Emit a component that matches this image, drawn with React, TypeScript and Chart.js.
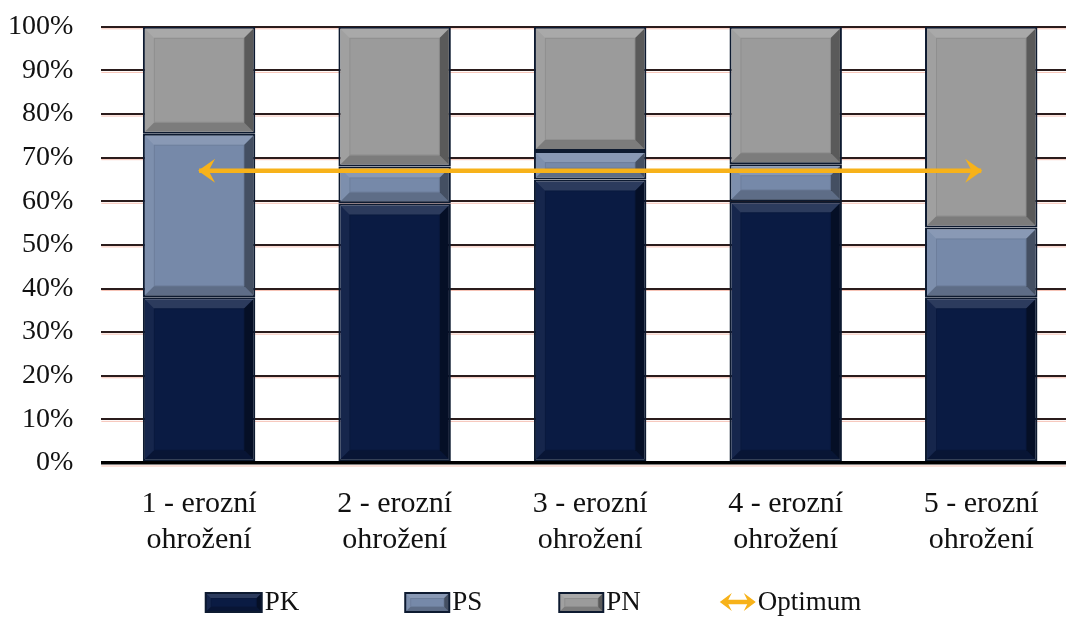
import React, { useEffect, useRef } from 'react';
import { Chart, registerables } from 'chart.js';

Chart.register(...registerables);

// Erosion-risk categories (two-line axis labels)
const categories: string[][] = [
  ['1 - erozní', 'ohrožení'],
  ['2 - erozní', 'ohrožení'],
  ['3 - erozní', 'ohrožení'],
  ['4 - erozní', 'ohrožení'],
  ['5 - erozní', 'ohrožení'],
];

// Shares of land use per category, in percent
const pkValues = [38, 59.5, 65, 60, 38];
const psValues = [37.5, 8.5, 6.5, 8.5, 16];
const pnValues = [24.5, 32, 28.5, 31.5, 46];

// Optimum level, drawn as a double arrow from the first to the last category
const optimumValues: (number | null)[] = [67, null, null, null, 67];

const seriesNames = ['PK', 'PS', 'PN', 'Optimum'];

const COLORS = {
  PK: '#0a1b43',
  PS: '#7689a9',
  PN: '#9b9b9b',
  edge: '#0d1a30',
  optimum: '#f7b21a',
  text: '#111111',
};

const FONT = "'Liberation Serif', 'Times New Roman', serif";

// Visible frame and the (larger) drawing surface behind it
const VIEW_W = 1066;
const VIEW_H = 618;
const CANVAS_W = 1140;
const CANVAS_H = 640;
const SHIFT_X = 20;
const SHIFT_Y = 18;

type Pt = [number, number];

function poly(ctx: CanvasRenderingContext2D, pts: Pt[], fill: string) {
  ctx.beginPath();
  ctx.moveTo(pts[0][0], pts[0][1]);
  for (let i = 1; i < pts.length; i++) ctx.lineTo(pts[i][0], pts[i][1]);
  ctx.closePath();
  ctx.fillStyle = fill;
  ctx.fill();
}

// Chiselled-edge look for a rectangle (l, t, r, b are the inner face bounds)
function drawBevel(ctx: CanvasRenderingContext2D, l: number, t: number, r: number, b: number, size: number) {
  const s = Math.min(size, (b - t) / 2, (r - l) / 2);
  if (s <= 0) return;
  poly(ctx, [[l, t], [r, t], [r - s, t + s], [l + s, t + s]], 'rgba(255,255,255,0.14)');
  poly(ctx, [[l, t], [l + s, t + s], [l + s, b - s], [l, b]], 'rgba(255,255,255,0.05)');
  poly(ctx, [[r, t], [r, b], [r - s, b - s], [r - s, t + s]], 'rgba(0,0,0,0.42)');
  poly(ctx, [[l, b], [r, b], [r - s, b - s], [l + s, b - s]], 'rgba(0,0,0,0.2)');
  ctx.strokeStyle = 'rgba(0,0,0,0.08)';
  ctx.lineWidth = 1;
  ctx.strokeRect(l + s + 0.5, t + s + 0.5, Math.max(0, r - l - 2 * s - 1), Math.max(0, b - t - 2 * s - 1));
}

function drawArrowHead(ctx: CanvasRenderingContext2D, x: number, y: number, dir: number, len: number, half: number, color: string) {
  ctx.beginPath();
  ctx.moveTo(x, y);
  ctx.lineTo(x + dir * len, y - half);
  ctx.lineTo(x + dir * len * 0.62, y);
  ctx.lineTo(x + dir * len, y + half);
  ctx.closePath();
  ctx.fillStyle = color;
  ctx.fill();
}

const bevelPlugin = {
  id: 'bevelBars',
  afterDatasetDraw(chart: any, args: any) {
    const meta = args.meta;
    if (meta.type !== 'bar') return;
    const ctx: CanvasRenderingContext2D = chart.ctx;
    const bw = 2;
    ctx.save();
    for (const el of meta.data) {
      const { x, y, base, width } = el.getProps(['x', 'y', 'base', 'width'], true);
      const l = x - width / 2 + bw;
      const r = x + width / 2 - bw;
      const t = Math.min(y, base) + bw;
      const b = Math.max(y, base) - bw;
      if (b - t <= 0) continue;
      drawBevel(ctx, l, t, r, b, 9);
    }
    ctx.restore();
  },
};

// Light reddish fringe under each horizontal grid line
const gridFringePlugin = {
  id: 'gridFringe',
  beforeDatasetsDraw(chart: any) {
    const yScale = chart.scales.y;
    const { left, right } = chart.chartArea;
    const ctx: CanvasRenderingContext2D = chart.ctx;
    ctx.save();
    ctx.strokeStyle = 'rgba(236,120,92,0.45)';
    ctx.lineWidth = 1;
    for (const tick of yScale.ticks) {
      const py = yScale.getPixelForValue(tick.value);
      const off = tick.value === 0 ? 2.5 : 1.5;
      ctx.beginPath();
      ctx.moveTo(left, py + off + 0.5);
      ctx.lineTo(right, py + off + 0.5);
      ctx.stroke();
    }
    ctx.restore();
  },
};

const arrowPlugin = {
  id: 'optimumArrow',
  afterDatasetsDraw(chart: any) {
    const idx = chart.data.datasets.findIndex((d: any) => d.type === 'line');
    if (idx < 0) return;
    const meta = chart.getDatasetMeta(idx);
    const pts = meta.data.filter((p: any, i: number) => optimumValues[i] != null);
    if (pts.length < 2) return;
    const a = pts[0];
    const b = pts[pts.length - 1];
    const ctx: CanvasRenderingContext2D = chart.ctx;
    ctx.save();
    drawArrowHead(ctx, a.x - 1, a.y, 1, 17, 12, COLORS.optimum);
    drawArrowHead(ctx, b.x + 1, b.y, -1, 17, 12, COLORS.optimum);
    ctx.restore();
  },
};

const legendIconWidths = [58, 46, 46, 36];
const legendGaps = [105, 76, 79];

const legendPlugin = {
  id: 'bottomLegend',
  afterDraw(chart: any) {
    const ctx: CanvasRenderingContext2D = chart.ctx;
    const datasets = chart.data.datasets;
    ctx.save();
    ctx.font = `27px ${FONT}`;
    ctx.textBaseline = 'middle';
    ctx.textAlign = 'left';
    const textGap = 2;
    const widths = datasets.map((d: any, i: number) => legendIconWidths[i] + textGap + ctx.measureText(d.label).width);
    const total = widths.reduce((s: number, w: number) => s + w, 0) + legendGaps.reduce((s, g) => s + g, 0);
    let x = SHIFT_X + VIEW_W / 2 - total / 2;
    const cy = SHIFT_Y + 603;
    datasets.forEach((d: any, i: number) => {
      const w = legendIconWidths[i];
      if (d.type === 'line') {
        const y = cy - 1;
        ctx.strokeStyle = d.borderColor;
        ctx.lineWidth = 4.5;
        ctx.beginPath();
        ctx.moveTo(x + 6, y);
        ctx.lineTo(x + w - 6, y);
        ctx.stroke();
        drawArrowHead(ctx, x, y, 1, 12, 9, d.borderColor);
        drawArrowHead(ctx, x + w, y, -1, 12, 9, d.borderColor);
      } else {
        const top = cy - 11;
        const h = 21;
        ctx.fillStyle = COLORS.edge;
        ctx.fillRect(x, top, w, h);
        ctx.fillStyle = d.backgroundColor;
        ctx.fillRect(x + 2, top + 2, w - 4, h - 4);
        drawBevel(ctx, x + 2, top + 2, x + w - 2, top + h - 2, 4);
      }
      ctx.fillStyle = COLORS.text;
      ctx.fillText(d.label, x + w + textGap, cy);
      x += widths[i] + (legendGaps[i] ?? 0);
    });
    ctx.restore();
  },
};

export default function App() {
  const canvasRef = useRef<HTMLCanvasElement | null>(null);

  useEffect(() => {
    if (!canvasRef.current) return;
    const barCommon = {
      borderColor: COLORS.edge,
      borderWidth: 2,
      borderSkipped: false as const,
      barPercentage: 0.575,
      categoryPercentage: 1,
      stack: 'shares',
      order: 2,
    };
    const chart = new Chart(canvasRef.current, {
      type: 'bar',
      data: {
        labels: categories,
        datasets: [
          { ...barCommon, label: seriesNames[0], data: pkValues, backgroundColor: COLORS.PK },
          { ...barCommon, label: seriesNames[1], data: psValues, backgroundColor: COLORS.PS },
          { ...barCommon, label: seriesNames[2], data: pnValues, backgroundColor: COLORS.PN },
          {
            type: 'line',
            label: seriesNames[3],
            data: optimumValues,
            borderColor: COLORS.optimum,
            backgroundColor: COLORS.optimum,
            borderWidth: 4.5,
            pointRadius: 0,
            spanGaps: true,
            fill: false,
            stack: 'optimum',
            order: 0,
          } as any,
        ],
      },
      options: {
        animation: false,
        responsive: false,
        maintainAspectRatio: false,
        devicePixelRatio: 1,
        layout: { padding: { left: 0, right: 41, top: 0, bottom: 49 } },
        plugins: {
          legend: { display: false },
          tooltip: { enabled: false },
        },
        scales: {
          x: {
            stacked: true,
            grid: { display: false },
            border: { display: false },
            ticks: {
              color: COLORS.text,
              font: { family: FONT, size: 30 },
              padding: 15,
              maxRotation: 0,
              autoSkip: false,
            },
          },
          y: {
            stacked: true,
            min: 0,
            max: 100,
            border: { display: false },
            grid: {
              drawTicks: false,
              color: (c: any) => (c.tick && c.tick.value === 0 ? '#000000' : '#2a1c1c'),
              lineWidth: (c: any) => (c.tick && c.tick.value === 0 ? 3.5 : 2),
            },
            ticks: {
              stepSize: 10,
              color: COLORS.text,
              font: { family: FONT, size: 28 },
              padding: 28,
              callback: (v: any) => `${v}%`,
            },
          },
        },
      },
      plugins: [gridFringePlugin, bevelPlugin, arrowPlugin, legendPlugin],
    });
    return () => chart.destroy();
  }, []);

  return (
    <div
      style={{
        position: 'absolute',
        left: 0,
        top: 0,
        width: VIEW_W,
        height: VIEW_H,
        overflow: 'hidden',
        background: '#ffffff',
      }}
    >
      <canvas
        ref={canvasRef}
        width={CANVAS_W}
        height={CANVAS_H}
        style={{ position: 'absolute', left: -SHIFT_X, top: -SHIFT_Y, width: CANVAS_W, height: CANVAS_H }}
      />
    </div>
  );
}
